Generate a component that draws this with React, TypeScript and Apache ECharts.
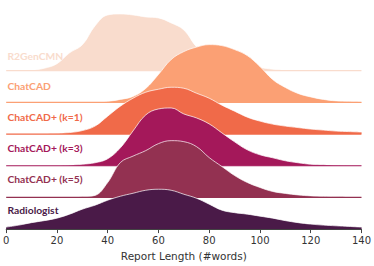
import React, { useEffect, useRef } from "react";
import * as echarts from "echarts";

// x grid (report length, #words)
const xValues = [0, 5, 10, 15, 20, 25, 30, 35, 40, 45, 50, 55, 60, 65, 70, 75, 80, 85, 90, 95, 100, 105, 110, 115, 120, 125, 130, 135, 140];

const names = ["R2GenCMN", "ChatCAD", "ChatCAD+ (k=1)", "ChatCAD+ (k=3)", "ChatCAD+ (k=5)", "Radiologist"];
const colors = ["#F9DCCD", "#FBA074", "#F06A49", "#A4185A", "#933151", "#4A1A48"];

// relative density heights (arbitrary units)
const r2gen = [0, 0, 0.5, 2.5, 7, 18, 26, 45, 56, 57, 56, 54, 53, 48, 41, 24, 14, 9, 5, 4, 3, 1.5, 0.5, 0, 0, 0, 0, 0, 0];
const chatcad = [0, 0, 0, 0, 0, 0, 0, 0, 1, 3, 6, 14, 28, 43, 51, 55.5, 58, 57, 53, 47, 36, 23, 15, 9, 5.5, 3, 1.5, 1, 0.5];
const chatcadK1 = [0, 0, 0, 0, 0.5, 1.5, 3.5, 8, 18, 28, 36, 42, 45, 47, 46, 41, 36, 29, 23, 17, 13, 10, 8, 6.5, 5, 4, 3, 2.5, 2];
const chatcadK3 = [0, 0, 0, 0, 0, 0.5, 1.5, 3, 7, 18, 35, 51, 57, 58, 52, 48, 42, 33, 24, 16, 11, 8, 5, 3, 1.5, 1, 0.5, 0.3, 0.2];
const chatcadK5 = [0, 0, 0, 0, 0, 0.3, 0.7, 2, 15, 35, 41.5, 47, 54, 57, 56, 51, 40, 31, 22, 15, 10, 6, 4, 2.5, 1.5, 1, 0.7, 0.5, 0.3];
const radiologist = [2, 4, 6.5, 8.5, 11, 15, 20, 24, 29, 33, 36, 39, 40, 39, 35, 31, 25, 19, 16.5, 15, 13, 11, 8.5, 6.5, 5, 4, 3.3, 2.7, 2];

const densities = [r2gen, chatcad, chatcadK1, chatcadK3, chatcadK5, radiologist];
const xTicks = [0, 20, 40, 60, 80, 100, 120, 140];

export default function App() {
  const ref = useRef<HTMLDivElement>(null);
  useEffect(() => {
    const chart = echarts.init(ref.current!, null, { renderer: "svg" });
    const step = 31.8;
    const n = names.length;
    const series: any[] = [];
    densities.forEach((d, i) => {
      const base = (n - 1 - i) * step;
      series.push({
        type: "line",
        name: names[i],
        data: xValues.map((x, j) => [x, base + d[j]]),
        smooth: 0.4,
        symbol: "none",
        z: 10 + 2 * i,
        lineStyle: { color: "#ffffff", width: 1, opacity: 0.7 },
        areaStyle: { color: colors[i], opacity: 1, origin: base },
        silent: true,
      });
      series.push({
        type: "line",
        data: [[xTicks[0], base], [xTicks[xTicks.length - 1], base]],
        symbol: "none",
        z: 11 + 2 * i,
        lineStyle: { color: colors[i], width: 1.2 },
        silent: true,
      });
    });
    const labels = names.map((nm, i) => ({
      type: "text",
      left: 7.5,
      top: 57 + 30.9 * i - 6.5,
      z: 100,
      style: {
        text: nm,
        fill: colors[i],
        font: "bold 10.3px Lato",
      },
    }));
    chart.setOption({
      animation: false,
      grid: { left: 3, right: 12, top: 0, bottom: 36 },
      xAxis: {
        type: "value",
        min: 0,
        max: 140,
        interval: 20,
        name: "Report Length (#words)",
        nameLocation: "middle",
        nameGap: 20,
        nameTextStyle: { color: "#333", fontSize: 10.5, fontFamily: "DejaVu Sans" },
        axisLine: { show: true, lineStyle: { color: "#444", width: 1 } },
        axisTick: { show: true, length: 4, lineStyle: { color: "#444" } },
        axisLabel: { color: "#333", fontSize: 10, fontFamily: "DejaVu Sans", margin: 6 },
        splitLine: { show: false },
        z: 200,
      },
      yAxis: {
        type: "value",
        min: 0,
        max: 230,
        show: false,
        splitLine: { show: false },
      },
      graphic: labels,
      series,
    });
    return () => chart.dispose();
  }, []);
  return <div ref={ref} style={{ position: "absolute", left: 0, top: 0, width: 374, height: 266 }} />;
}
